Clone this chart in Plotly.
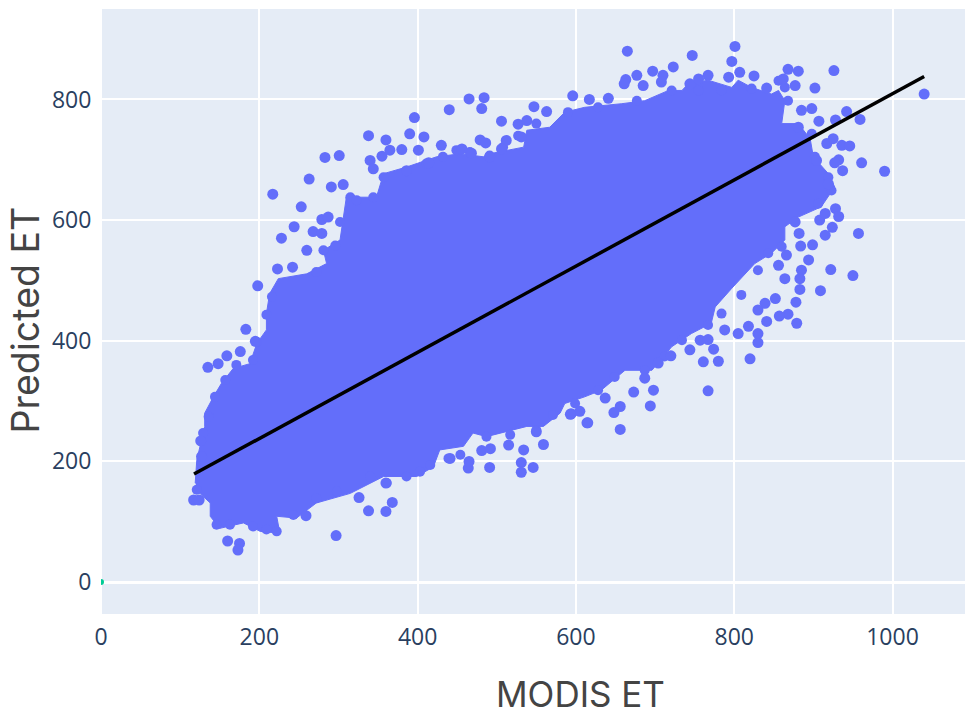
import plotly.graph_objects as go

# Scattered points (MODIS ET, Predicted ET)
scatter_x = [217,263,253,228,244,283,301,291,306,338,360,390,408,396,440,465,484,481,506,547,563,223,242,260,279,287,268,279,340,344,355,365,380,401,386,414,430,456,468,479,486,512,506,527,538,531,491,
 665,747,801,797,723,596,617,641,663,661,677,697,710,685,708,744,755,767,793,807,825,841,868,881,862,877,926,902,1040,885,898,907,928,942,959,881,917,925,936,946,961,990,932,927,937,904,919,928,932,908,924,915,957,899,884,882,877,915,
 922,950,909,883,878,879,868,857,841,830,830,820,780,761,774,767,744,757,767,720,704,698,694,673,656,648,656,615,637,594,605,687,894,885,883,864,852,839,830,805,788,818,856,866,
 198,183,195,176,159,148,135,126,127,117,124,160,175,173,297,259,326,338,360,368,360,481,492,491,534,531,531,546,559,515,464,465,441,593,614,550]
scatter_y = [643,668,622,570,589,704,707,655,659,740,733,743,738,770,783,801,803,785,764,788,780,519,522,550,601,605,581,578,699,685,706,716,717,716,682,695,724,718,711,733,728,732,718,759,765,738,705,
 880,873,888,863,854,806,800,802,833,826,840,847,840,823,829,826,834,840,837,845,839,819,850,847,834,823,848,819,809,782,785,764,766,780,767,754,727,735,724,723,695,681,700,695,682,699,660,619,606,600,588,575,578,559,557,578,597,611,
 518,508,483,485,464,429,444,441,432,397,412,370,366,365,386,317,385,401,402,375,363,318,292,315,291,281,253,264,305,279,283,338,534,517,503,503,470,462,451,412,418,424,525,542,
 491,419,399,382,375,362,356,234,208,136,136,68,64,53,77,110,140,118,117,132,164,218,221,190,219,198,182,190,228,227,189,200,205,278,264,249]

# Points on the rim of the dense mass
rim_x = [146,163,192,209,222,243,272,298,340,361,386,403,416,439,454,487,517,550,571,121,129,136,144,157,171,192,197,216,209,272,281,296,302,315,323,344,357,411,432,449,466,491,508,527,550,590,628,677,721,755,784,822,856,864,868,898,902,919,923,906,860,843,830,809,784,767,734,712,687,649,628,599]
rim_y = [95,95,92,87,84,111,139,150,175,164,175,183,194,205,211,241,244,252,277,153,247,274,307,335,360,368,398,473,443,514,550,558,597,638,633,638,671,694,705,716,713,707,721,740,760,779,787,798,815,815,815,818,831,820,798,743,705,671,649,627,556,545,517,476,445,426,401,374,351,340,318,296]

# Outline of the solid, fully overlapped mass of points
mass_x = [119,121,131,131,142,152,167,188,197,209,209,213,224,260,285,281,302,306,310,348,357,386,424,454,483,491,534,538,567,586,611,658,687,717,734,742,767,797,805,822,847,856,864,860,881,896,900,919,927,910,881,864,864,847,839,826,797,776,771,746,721,696,662,632,611,586,580,559,538,487,470,458,428,420,399,357,315,272,247,222,226,201,180,150,138,138,125]
mass_y = [164,202,258,280,307,329,354,362,396,418,445,478,503,511,528,550,567,605,638,638,677,688,705,710,705,710,721,749,754,779,787,793,798,815,815,826,832,820,832,820,809,815,798,760,760,735,705,677,655,622,605,589,567,545,539,528,487,456,429,412,390,351,351,318,307,296,280,258,258,241,247,225,219,191,175,175,147,131,106,109,81,84,98,89,109,131,147]

# Fitted line and the second series at the origin
fit_x = [117.5, 1040]
fit_y = [179, 838]
origin_x = [0]
origin_y = [0]

x_ticks = [0, 200, 400, 600, 800, 1000]
y_ticks = [0, 200, 400, 600, 800]

BLUE = "#636efa"
fig = go.Figure()
fig.add_trace(go.Scatter(x=mass_x, y=mass_y, mode="lines", fill="toself", fillcolor=BLUE,
                         line=dict(color=BLUE, width=1), hoverinfo="skip"))
fig.add_trace(go.Scatter(x=rim_x, y=rim_y, mode="markers", marker=dict(color=BLUE, size=10)))
fig.add_trace(go.Scatter(x=scatter_x, y=scatter_y, mode="markers", marker=dict(color=BLUE, size=11)))
fig.add_trace(go.Scatter(x=origin_x, y=origin_y, mode="markers", marker=dict(color="#00cc96", size=6)))
fig.add_trace(go.Scatter(x=fit_x, y=fit_y, mode="lines", line=dict(color="black", width=3.5)))

fig.update_layout(
    template="plotly", width=965, height=709, showlegend=False,
    margin=dict(l=101, r=0, t=9, b=95),
    font=dict(family="Open Sans, verdana, arial, sans-serif", size=23, color="#2a3f5f"),
    xaxis=dict(range=[0, 1091.6], tickvals=x_ticks, tickfont=dict(size=23), ticks="outside",
               ticklen=2, tickcolor="rgba(0,0,0,0)", gridwidth=2),
    yaxis=dict(range=[-53, 950], tickvals=y_ticks, tickfont=dict(size=23), ticks="outside",
               ticklen=4, tickcolor="rgba(0,0,0,0)", gridwidth=2, zerolinewidth=3),
    annotations=[
        dict(text="MODIS ET", xref="paper", yref="paper", x=0.5544, y=-0.1325, yanchor="middle", xanchor="center",
             showarrow=False, font=dict(family="Inter", size=35, color="#444444")),
        dict(text="Predicted ET", xref="paper", yref="paper", x=-0.087, y=0.4865, xanchor="center", yanchor="middle",
             textangle=-90, showarrow=False, font=dict(family="Inter", size=37.5, color="#444444")),
    ],
)
fig.write_html("out.html", config=dict(displayModeBar=False),
               post_script="document.body.style.margin='0';document.documentElement.style.overflow='hidden';")
